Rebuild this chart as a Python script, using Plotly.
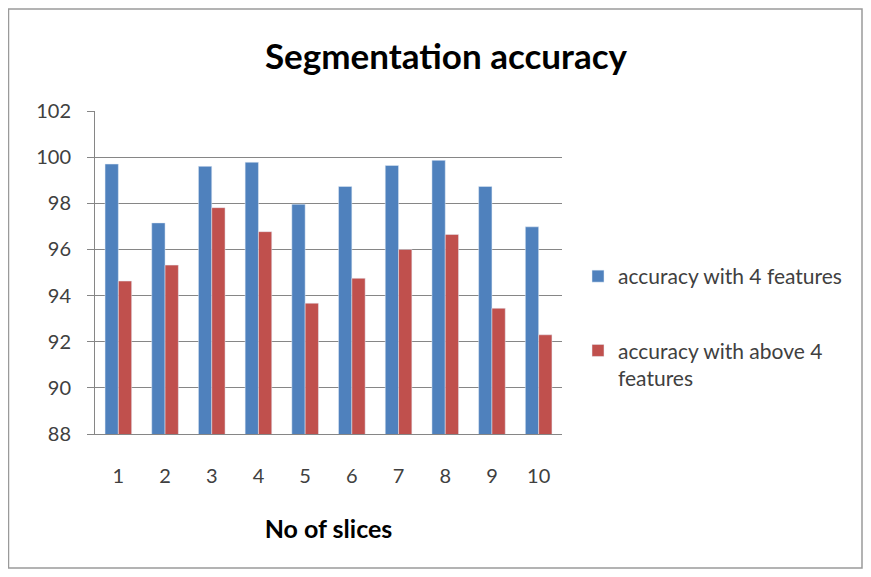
import plotly.graph_objects as go

categories = ["1", "2", "3", "4", "5", "6", "7", "8", "9", "10"]
acc_4 = [99.70, 97.15, 99.60, 99.78, 97.96, 98.73, 99.64, 99.86, 98.73, 96.98]
acc_above_4 = [94.63, 95.32, 97.81, 96.77, 93.67, 94.75, 96.00, 96.65, 93.45, 92.30]
y_ticks = [88, 90, 92, 94, 96, 98, 100, 102]

W, H = 855, 561
L, T = 87, 103
R, B = W - 554, H - 426
pw, ph = W - L - R, H - T - B

def px(x):
    return (x - L) / pw

def py(y):
    return (H - B - y) / ph

fig = go.Figure()
fig.add_trace(go.Bar(x=categories, y=acc_4, name="accuracy with 4 features",
                     marker_color="#4F81BD", legendgroup="a"))
fig.add_trace(go.Bar(x=categories, y=acc_above_4, name="accuracy with above 4<br>features",
                     marker_color="#C0504D", legendgroup="b"))

fig.update_layout(
    width=W, height=H,
    margin=dict(l=L, r=R, t=T, b=B, autoexpand=False),
    paper_bgcolor="white", plot_bgcolor="white",
    barmode="group", bargap=0.43, bargroupgap=0,
    font=dict(family="Lato, Open Sans, sans-serif", color="#404040"),
    title=dict(text="<b>Segmentation accuracy</b>", xref="container", x=438 / W, xanchor="center",
               yref="container", y=1 - 49 / H, yanchor="middle", font=dict(size=35, color="black")),
    legend=dict(x=px(570), xanchor="left", y=py(248), yanchor="top",
                traceorder="grouped", tracegroupgap=44, valign="top",
                font=dict(size=21, color="#404040"), itemwidth=30),
    xaxis=dict(showline=True, linecolor="#868686", ticks="", tickfont=dict(size=20),
               showgrid=False, ticklabelstandoff=24,
               title=dict(text="<b>No of slices</b>", font=dict(size=25, color="black"), standoff=34)),
    yaxis=dict(range=[88, 102], tickvals=y_ticks, showline=True, linecolor="#868686",
               gridcolor="#868686", gridwidth=1, ticks="outside", ticklen=7,
               tickcolor="#868686", tickfont=dict(size=20), zeroline=False,
               ticklabelstandoff=12),
    shapes=[dict(type="rect", xref="paper", yref="paper",
                 x0=px(0.5), x1=px(854), y0=py(560), y1=py(1),
                 line=dict(color="#9A9A9A", width=1.5), fillcolor="rgba(0,0,0,0)")],
)

fig.write_html("out.html")
